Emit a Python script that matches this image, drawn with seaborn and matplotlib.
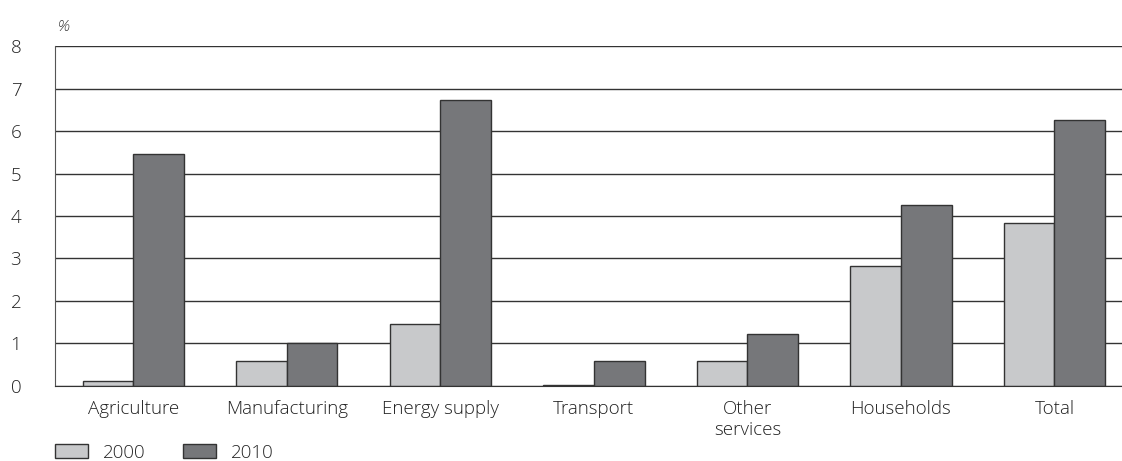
import pandas as pd
import seaborn as sns
import matplotlib.pyplot as plt

categories = ["Agriculture", "Manufacturing", "Energy supply", "Transport",
              "Other\nservices", "Households", "Total"]
values_2000 = [0.12, 0.59, 1.46, 0.02, 0.58, 2.82, 3.83]
values_2010 = [5.47, 1.0, 6.74, 0.59, 1.22, 4.25, 6.26]
years = ["2000", "2010"]

df = pd.DataFrame({
    "sector": categories * 2,
    "year": [years[0]] * len(categories) + [years[1]] * len(categories),
    "value": values_2000 + values_2010,
})

sns.set_style("white")
plt.rcParams['font.family'] = ['Open Sans', 'DejaVu Sans']
plt.rcParams['font.weight'] = 'light'

fig = plt.figure(figsize=(11.22, 4.61), dpi=100)
ax = fig.add_axes([0.049, 0.163, 0.951, 0.737])

sns.barplot(data=df, x="sector", y="value", hue="year",
            palette=["#c8c9cb", "#76777a"], width=0.66,
            edgecolor="#333333", linewidth=1.0, saturation=1, ax=ax)

ax.set_ylim(0, 8)
ax.set_xlim(-0.51, 6.44)
ax.set_yticks(range(9))
ax.yaxis.grid(True, color="#333333", linewidth=1.0)
ax.set_axisbelow(True)
for s in ["top", "right"]:
    ax.spines[s].set_visible(False)
ax.spines["left"].set_color("#555555")
ax.spines["bottom"].set_color("#333333")
ax.tick_params(axis="both", length=0, labelsize=13.5, colors="#222222")
ax.tick_params(axis="y", pad=32)
ax.tick_params(axis="x", pad=10)
for lab in ax.get_yticklabels():
    lab.set_horizontalalignment("left")
ax.set_xlabel("")
ax.set_ylabel("")
ax.text(-0.49, 8.35, "%", fontsize=11, style="italic", color="#333333")

ax.legend(loc="upper left", bbox_to_anchor=(0.0, -0.17), ncol=2, frameon=False,
          fontsize=13.5, handlelength=1.75, handleheight=0.8, columnspacing=2.0,
          borderaxespad=0, borderpad=0, handletextpad=0.8)

fig.savefig("out.png", dpi=100)
